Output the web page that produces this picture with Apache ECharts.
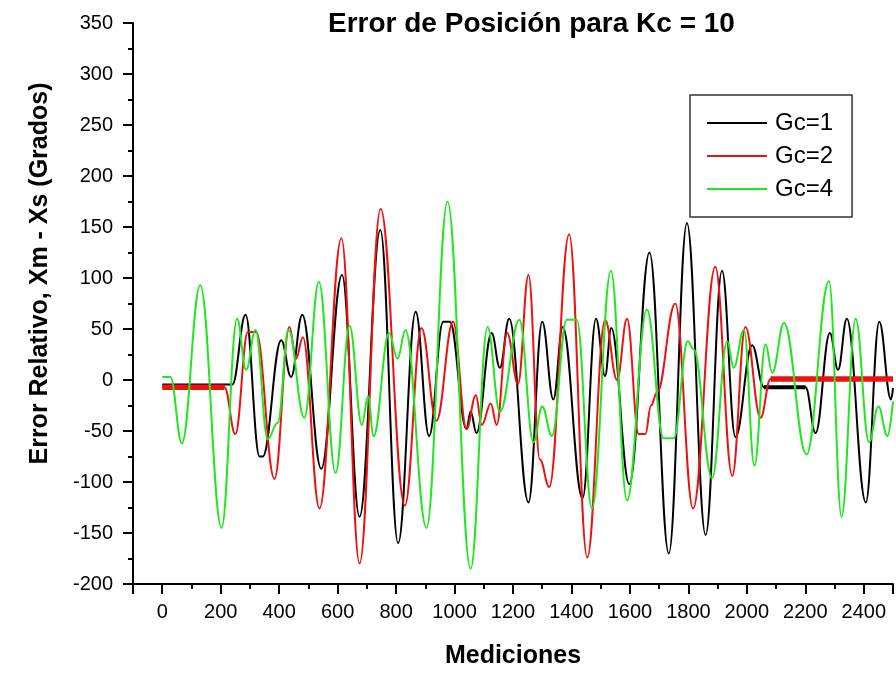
<!DOCTYPE html>
<html>
<head>
<meta charset="utf-8">
<script src="https://cdn.jsdelivr.net/npm/echarts@6/dist/echarts.min.js"></script>
<style>
html,body{margin:0;padding:0;background:#fff;}
#chart{width:896px;height:674px;}
</style>
</head>
<body>
<div id="chart"></div>
<script>
const seriesNames = ['Gc=1', 'Gc=2', 'Gc=4'];
const xTickLabels = [0, 200, 400, 600, 800, 1000, 1200, 1400, 1600, 1800, 2000, 2200, 2400];
const yTickLabels = [-200, -150, -100, -50, 0, 50, 100, 150, 200, 250, 300, 350];

const gc1 = [[0,-4.5],[240,-4.5],[285,64],[333,-75],[344,-75],[407,39],[441,3],[479,64],[544,-87],
  [615,103],[675,-134],[746,147],[807,-160],[867,67],[913,-55],[961,57],[984,57],[1041,-48],
  [1055,-31],[1075,-52],[1127,46],[1155,12],[1187,60],[1253,-120],[1300,57],[1338,-19],[1370,52],
  [1438,-116],[1484,60],[1515,4],[1536,51],[1598,-102],[1667,125],[1733,-170],[1795,154],
  [1859,-152],[1915,107],[1961,-56],[2018,34],[2058,-7],[2201,-7],[2235,-52],[2284,46],
  [2312,10],[2342,60],[2407,-120],[2453,57],[2493,-19],[2500,-8]];

const gc2 = [[0,-7],[213,-7],[250,-53],[293,47],[321,47],[384,-97],[435,52],[458,21],[481,42],
  [538,-126],[613,139],[675,-180],[747,168],[830,-123],[887,51],[938,-40],[995,57],[1041,-48],
  [1073,-15],[1093,-44],[1124,-23],[1144,-44],[1180,46],[1217,-4],[1253,103],[1292,-78],
  [1324,-105],[1392,143],[1454,-174],[1515,59],[1556,0],[1590,60],[1630,-53],[1653,-53],
  [1672,-25],[1693,-12],[1755,75],[1816,-126],[1892,111],[1950,-94],[1995,52],[2047,-37],
  [2081,1],[2500,1]];

const gc4 = [[0,3],[28,3],[67,-62],[130,93],[203,-145],[256,60],[287,10],[319,49],[361,-58],
  [395,-42],[432,49],[486,-37],[536,96],[593,-91],[641,53],[683,-44],[704,-16],[723,-55],
  [776,46],[805,21],[832,49],[904,-145],[976,175],[1055,-185],[1113,52],[1155,-31],[1222,59],
  [1270,-61],[1300,-26],[1333,-55],[1384,59],[1418,59],[1470,-126],[1535,107],[1590,-118],
  [1658,69],[1715,-57],[1750,-57],[1798,38],[1818,30],[1881,-96],[1933,38],[1955,12],[1990,49],
  [2026,-84],[2064,35],[2087,7],[2127,56],[2204,-73],[2281,97],[2324,-134],[2372,60],
  [2418,-61],[2450,-26],[2481,-55],[2500,-21]];

// noisy flat stretches, which show as thicker bands in the reference
const gc1Flat = [[2058,-7],[2201,-7]];
const gc2FlatStart = [[0,-7],[213,-7]];
const gc2FlatEnd = [[2081,1],[2500,1]];

const colors = ['#000000', '#ee1111', '#22e622'];
const FONT = '"Liberation Sans", Arial, Helvetica, sans-serif';

const chart = echarts.init(document.getElementById('chart'), null, {renderer: 'canvas'});

function lineSeries(name, data, color, width, z) {
  return {
    name: name, type: 'line', data: data,
    smooth: 0.4, smoothMonotone: 'x',
    showSymbol: false, symbol: 'none',
    lineStyle: {color: color, width: width},
    itemStyle: {color: color},
    z: z, silent: true
  };
}

const option = {
  animation: false,
  backgroundColor: '#ffffff',
  textStyle: {fontFamily: FONT},
  title: {
    text: 'Error de Posición para Kc = 10',
    left: 323, top: 5,
    textStyle: {fontSize: 28, fontWeight: 'bold', color: '#000', fontFamily: FONT}
  },
  legend: {
    data: seriesNames,
    orient: 'vertical',
    left: 690, top: 95,
    padding: [16, 19, 16, 17],
    itemGap: 9,
    itemWidth: 60, itemHeight: 2,
    icon: 'rect',
    borderColor: '#333', borderWidth: 1.5,
    textStyle: {fontSize: 24, color: '#000', fontFamily: FONT, padding: [0, 0, 0, 3]}
  },
  grid: {left: 133, right: 3, top: 23, bottom: 87, containLabel: false},
  xAxis: {
    type: 'value', min: -100, max: 2500,
    splitNumber: 13, minInterval: 200, maxInterval: 200,
    axisLine: {show: true, onZero: false, lineStyle: {color: '#000', width: 2}},
    axisTick: {show: true, length: 10, lineStyle: {color: '#000', width: 2}},
    minorTick: {show: true, splitNumber: 2, length: 5, lineStyle: {color: '#000', width: 2}},
    splitLine: {show: false},
    axisLabel: {
      margin: 18, fontSize: 20, color: '#000', fontFamily: FONT,
      formatter: function (v) { return xTickLabels.indexOf(v) >= 0 ? String(v) : ''; }
    },
    name: 'Mediciones', nameLocation: 'middle', nameGap: 60,
    nameTextStyle: {fontSize: 25, fontWeight: 'bold', color: '#000', fontFamily: FONT}
  },
  yAxis: {
    type: 'value', min: -200, max: 350, interval: 50,
    axisLine: {show: true, onZero: false, lineStyle: {color: '#000', width: 2}},
    axisTick: {show: true, length: 10, lineStyle: {color: '#000', width: 2}},
    minorTick: {show: true, splitNumber: 2, length: 5, lineStyle: {color: '#000', width: 2}},
    splitLine: {show: false},
    axisLabel: {
      margin: 20, fontSize: 20, color: '#000', fontFamily: FONT,
      formatter: function (v) { return yTickLabels.indexOf(v) >= 0 ? String(v) : ''; }
    },
    name: 'Error Relativo, Xm - Xs (Grados)', nameLocation: 'middle', nameGap: 80, nameRotate: 90,
    nameTextStyle: {fontSize: 25, fontWeight: 'bold', color: '#000', fontFamily: FONT, padding: [0, 0, 0, 60]}
  },
  series: [
    lineSeries(seriesNames[0], gc1, colors[0], 2, 2),
    lineSeries('gc1-flat', gc1Flat, colors[0], 4, 2),
    lineSeries(seriesNames[1], gc2, colors[1], 2, 3),
    lineSeries('gc2-flat-a', gc2FlatStart, colors[1], 5.5, 3),
    lineSeries('gc2-flat-b', gc2FlatEnd, colors[1], 5.5, 3),
    lineSeries(seriesNames[2], gc4, colors[2], 2, 4)
  ]
};
chart.setOption(option);
</script>
</body>
</html>
